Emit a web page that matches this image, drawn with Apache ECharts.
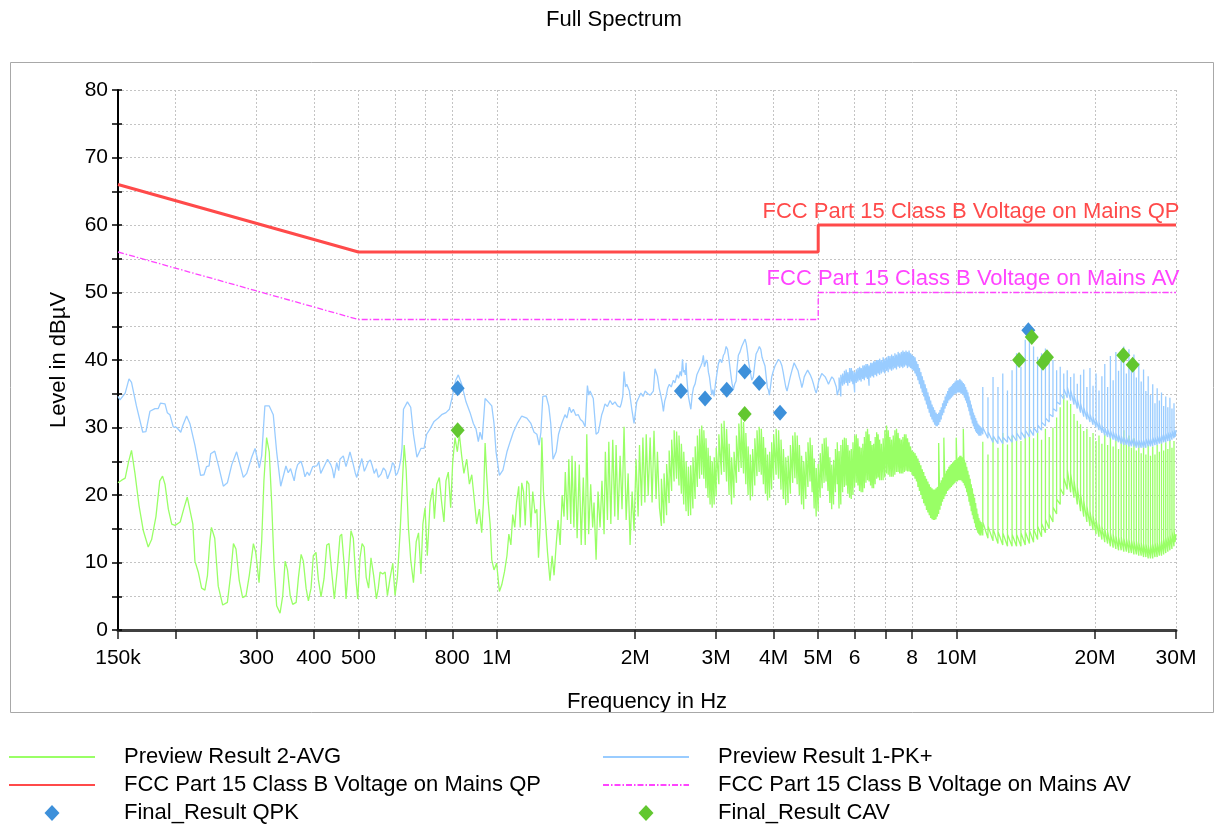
<!DOCTYPE html>
<html>
<head>
<meta charset="utf-8">
<title>Full Spectrum</title>
<script src="https://cdn.jsdelivr.net/npm/echarts@6/dist/echarts.min.js"></script>
<style>
  html, body { margin: 0; padding: 0; background: #ffffff; }
  #chart { width: 1216px; height: 826px; }
</style>
</head>
<body>
<div id="chart"></div>
<script>
// ---- Axis ticks (frequencies in MHz) ----
const tickFreqMHz  = [0.15, 0.2, 0.3, 0.4, 0.5, 0.6, 0.7, 0.8, 1, 2, 3, 4, 5, 6, 7, 8, 10, 20, 30];
const labelFreqMHz = [0.15, 0.3, 0.4, 0.5, 0.8, 1, 2, 3, 4, 5, 6, 8, 10, 20, 30];
const labelText    = ['150k', '300', '400', '500', '800', '1M', '2M', '3M', '4M', '5M', '6', '8', '10M', '20M', '30M'];

// ---- Limit lines [MHz, dBµV] ----
const qpLimit = [[0.15, 66], [0.5, 56], [5, 56], [5, 60], [30, 60]];
const avLimit = [[0.15, 56], [0.5, 46], [5, 46], [5, 50], [30, 50]];

// ---- Final measurement results [MHz, dBµV] ----
const qpkFinal = [[0.822, 35.8], [2.514, 35.4], [2.837, 34.3], [3.162, 35.6], [3.46, 38.3], [3.72, 36.6], [4.13, 32.2], [14.32, 44.4]];
const cavFinal = [[0.822, 29.6], [3.46, 32.0], [13.67, 40.0], [14.57, 43.4], [15.41, 39.6], [15.72, 40.4], [23.04, 40.7], [24.15, 39.3]];

// ---- Preview Result 1-PK+ [MHz, dBµV] ----
const pkLow = [[0.150,34.6],[0.1515,34.1],[0.1555,35.1],[0.1585,37.2],[0.1605,36.7],[0.1645,33.2],[0.1698,29.3],[0.1725,29.4],[0.1760,32.4],[0.1805,32.8],[0.1835,32.8],[0.1855,33.6],[0.1898,33.5],[0.1920,32.2],[0.1945,31.9],[0.1978,30.1],[0.2013,30.0],[0.2054,29.3],[0.2075,30.3],[0.2115,31.7],[0.2150,30.6],[0.2205,27.4],[0.2268,22.9],[0.2307,23.0],[0.2337,24.2],[0.2367,24.3],[0.2386,26.1],[0.2435,26.5],[0.2478,24.5],[0.2542,21.3],[0.2594,21.8],[0.2652,24.5],[0.2717,26.4],[0.2753,24.9],[0.2810,22.6],[0.2858,23.2],[0.2930,25.6],[0.2980,26.9],[0.3044,24.0],[0.3080,25.8],[0.3130,33.2],[0.3199,33.2],[0.3264,31.9],[0.3320,26.4],[0.3388,21.3],[0.3478,24.3],[0.3518,23.3],[0.3560,23.9],[0.3625,22.1],[0.3655,23.6],[0.3688,24.5],[0.3751,25.0],[0.3790,24.0],[0.3826,22.7],[0.3870,23.4],[0.3910,22.9],[0.3977,24.2],[0.4058,24.3],[0.4100,24.9],[0.4140,23.2],[0.4194,24.0],[0.4284,25.3],[0.4353,24.5],[0.4390,23.8],[0.4425,22.5],[0.4485,24.8],[0.4530,23.6],[0.4559,25.3],[0.4635,25.8],[0.4699,24.2],[0.4740,25.1],[0.4793,26.4],[0.4874,24.5],[0.4920,23.3],[0.4958,22.6],[0.5020,24.0],[0.5087,25.4],[0.5150,23.5],[0.5201,24.2],[0.5250,24.9],[0.5307,25.2],[0.5360,24.3],[0.5411,23.2],[0.5470,23.9],[0.5524,22.6],[0.5600,23.1],[0.5667,24.0],[0.5730,23.6],[0.5785,22.4],[0.5882,23.7],[0.5930,24.8],[0.5977,24.5],[0.6030,22.9],[0.6078,23.2],[0.6130,24.0],[0.6184,25.3],[0.6220,27.0],[0.6266,32.7],[0.6391,33.8],[0.6497,33.0],[0.6587,29.0],[0.6702,25.6],[0.6838,26.9],[0.6946,26.9],[0.7038,29.0],[0.7159,29.8],[0.7304,30.9],[0.7460,31.4],[0.7585,31.9],[0.7752,32.2],[0.7884,32.7],[0.8016,34.8],[0.8138,37.0],[0.8245,37.8],[0.8386,36.4],[0.8570,33.8],[0.8746,32.2],[0.8891,30.6],[0.9009,29.8],[0.9115,27.9],[0.9193,29.3]];
const pkMid = [[0.929,28.2],[0.943,34.3],[0.958,33.8],[0.975,33.2],[0.986,30.6],[0.996,26.4],[1.013,22.9],[1.031,23.7],[1.052,26.4],[1.069,27.9],[1.086,29.3],[1.108,30.6],[1.133,31.7],[1.162,31.4],[1.186,30.6],[1.205,29.3],[1.222,29.0],[1.236,27.4],[1.247,29.3],[1.259,34.6],[1.280,34.7],[1.297,33.2],[1.310,30.6],[1.325,25.3],[1.346,26.4],[1.362,29.0],[1.384,30.6],[1.407,31.9],[1.420,31.4],[1.438,33.0],[1.452,32.2],[1.467,32.7],[1.485,31.8],[1.504,31.9],[1.520,31.2],[1.538,30.9],[1.556,30.1],[1.574,36.2],[1.585,34.8],[1.595,35.4],[1.621,34.3],[1.644,29.0],[1.663,29.3],[1.691,31.9],[1.705,32.6],[1.719,33.5],[1.740,33.1],[1.763,34.0],[1.785,33.4],[1.807,33.8],[1.830,33.2],[1.854,33.0],[1.866,33.6],[1.879,34.6],[1.891,38.3],[1.905,36.0],[1.917,36.4],[1.942,35.4],[1.966,32.7],[1.988,30.6],[2.015,33.8],[2.035,34.4],[2.057,35.1],[2.080,34.6],[2.102,35.4],[2.130,35.0],[2.155,34.8],[2.190,35.4],[2.208,38.7],[2.235,37.6],[2.255,35.8]];
const pkRipple = [[2.273,34.8],[2.290,33.6],[2.303,32.4],[2.318,33.9],[2.334,34.6],[2.352,35.8],[2.373,36.4],[2.395,36.0],[2.421,37.0],[2.440,36.6],[2.464,37.8],[2.485,37.3],[2.505,38.3],[2.520,37.6],[2.534,40.1],[2.546,38.2],[2.559,38.5],[2.570,37.8],[2.580,39.6],[2.588,37.6],[2.596,36.4],[2.610,34.6],[2.623,33.8],[2.642,32.7],[2.660,34.8],[2.677,35.9],[2.700,36.5],[2.723,37.8],[2.750,38.0],[2.777,39.1],[2.795,39.6],[2.813,40.7],[2.828,39.0],[2.842,39.1],[2.856,40.0],[2.871,39.6],[2.885,38.2],[2.900,37.5],[2.918,36.0],[2.935,34.8],[2.950,35.6],[2.968,34.6],[2.988,36.4],[3.008,37.8],[3.032,39.4],[3.059,40.1],[3.085,39.6],[3.110,40.7],[3.130,41.0],[3.153,42.0],[3.175,41.6],[3.194,40.4],[3.210,39.2],[3.226,38.0],[3.248,36.5],[3.269,35.6],[3.290,36.4],[3.314,36.9],[3.332,39.0],[3.352,40.7],[3.380,41.2],[3.409,42.0],[3.438,41.8],[3.467,43.1],[3.488,42.4],[3.508,41.2],[3.530,39.6],[3.554,38.5],[3.585,37.0],[3.613,37.5],[3.640,39.4],[3.663,40.9],[3.695,41.4],[3.724,42.0],[3.750,41.6],[3.774,40.4],[3.800,39.8],[3.831,39.1],[3.855,37.4],[3.876,35.9],[3.895,35.6],[3.915,34.8],[3.940,36.2],[3.961,37.5],[3.995,38.4],[4.027,39.1],[4.060,39.2],[4.098,40.1],[4.135,39.8],[4.170,39.1],[4.195,38.2],[4.219,37.2],[4.250,36.0],[4.277,35.4],[4.310,36.4],[4.347,37.5],[4.390,38.6],[4.432,39.6],[4.460,39.2],[4.489,38.8],[4.520,38.4],[4.550,37.5],[4.580,36.8],[4.607,35.9],[4.635,36.6],[4.662,37.5],[4.700,38.0],[4.742,38.5],[4.775,38.4],[4.805,37.8],[4.845,37.2],[4.885,36.4],[4.920,35.6],[4.950,35.1],[4.980,35.8],[5.013,36.9],[5.050,37.4],[5.090,38.0],[5.135,37.9],[5.178,37.5],[5.220,37.0],[5.264,36.4],[5.310,37.0],[5.353,37.5],[5.400,37.2],[5.442,37.0],[5.475,36.0],[5.500,34.8]];
const pkTail = [[29.85, 28.6], [30.0, 29.6]];

// ---- Preview Result 2-AVG [MHz, dBµV] ----
const avgLow = [[0.150,21.8],[0.1528,22.2],[0.1555,22.5],[0.1580,24.8],[0.1605,26.6],[0.1633,23.2],[0.1667,18.4],[0.1703,14.7],[0.1745,12.3],[0.1775,13.4],[0.1814,16.8],[0.1849,22.1],[0.1875,22.8],[0.1898,21.6],[0.1930,17.9],[0.1963,15.7],[0.1996,15.5],[0.2048,16.0],[0.2088,18.1],[0.2122,19.7],[0.2143,19.6],[0.2182,15.7],[0.2205,10.2],[0.2242,8.6],[0.2280,6.2],[0.2318,5.9],[0.2348,8.1],[0.2375,13.1],[0.2395,15.2],[0.2435,13.6],[0.2478,6.5],[0.2534,3.7],[0.2594,4.1],[0.2638,8.3],[0.2674,12.8],[0.2708,12.0],[0.2753,7.3],[0.2800,4.8],[0.2848,5.1],[0.2895,8.1],[0.2955,12.8],[0.2990,11.5],[0.3040,7.0],[0.3080,13.1],[0.3115,22.1],[0.3157,28.5],[0.3199,26.4],[0.3238,18.9],[0.3276,9.9],[0.3320,3.6],[0.3377,2.5],[0.3423,5.1],[0.3464,10.2],[0.3505,8.9],[0.3553,5.1],[0.3598,3.8],[0.3661,4.1],[0.3703,7.8],[0.3753,11.2],[0.3795,10.2],[0.3847,6.2],[0.3892,4.3],[0.3944,6.2],[0.3989,11.0],[0.4043,11.5],[0.4091,7.5],[0.4146,4.9],[0.4209,7.6],[0.4267,12.6],[0.4316,12.8],[0.4374,8.6],[0.4432,4.6],[0.4499,9.0],[0.4559,13.9],[0.4598,14.2],[0.4659,9.4],[0.4699,4.6],[0.4763,9.9],[0.4817,14.7],[0.4874,13.6],[0.4933,7.8],[0.4983,4.6],[0.5040,10.7],[0.5093,12.8],[0.5146,12.3],[0.5199,7.8],[0.5262,6.2],[0.5325,10.7],[0.5396,8.1],[0.5471,4.6],[0.5524,6.2],[0.5573,8.6],[0.5649,8.3],[0.5716,8.6],[0.5782,5.1],[0.5862,7.8],[0.5940,9.9],[0.6006,5.1],[0.6078,7.8],[0.6163,14.7],[0.6235,22.1],[0.6288,27.4],[0.6351,23.7],[0.6423,15.2],[0.6497,10.4],[0.6587,7.0],[0.6679,13.1],[0.6756,14.4],[0.6838,8.3],[0.6905,15.7],[0.6980,18.1],[0.7059,11.0],[0.7159,18.9],[0.7256,21.0],[0.7315,16.5],[0.7402,21.6],[0.7497,22.6],[0.7585,18.9],[0.7674,16.0],[0.7752,22.1],[0.7842,23.4],[0.7937,18.1],[0.8016,24.8],[0.8111,28.5],[0.8206,26.4],[0.8290,29.0],[0.8386,25.8],[0.8480,23.2],[0.8600,25.3],[0.8716,21.6],[0.8821,23.0],[0.8920,19.7],[0.9040,15.7],[0.9162,17.9]];
const avgMid = [[0.927,14.4],[0.935,18.9],[0.943,27.7],[0.950,23.2],[0.958,18.9],[0.967,15.7],[0.975,10.4],[0.986,8.9],[0.999,9.9],[1.013,5.7],[1.025,6.7],[1.039,8.6],[1.052,11.0],[1.062,14.2],[1.073,12.6],[1.083,17.1],[1.094,15.2],[1.104,18.9],[1.116,21.3],[1.124,15.2],[1.133,21.8],[1.143,20.5],[1.153,15.5],[1.162,22.1],[1.174,21.6],[1.186,15.2],[1.197,20.5],[1.211,17.3],[1.222,17.9],[1.232,10.7],[1.242,15.2],[1.253,28.5],[1.263,20.5],[1.274,16.8],[1.289,11.5],[1.305,7.3],[1.319,11.0],[1.332,8.1],[1.346,12.6],[1.359,16.3],[1.373,12.6],[1.387,20.0],[1.400,16.8],[1.409,23.4],[1.424,16.3],[1.434,25.3],[1.448,15.7],[1.457,25.8],[1.471,15.2],[1.481,25.0],[1.495,13.6],[1.511,24.5],[1.526,12.6],[1.542,22.6],[1.557,12.6],[1.569,29.0],[1.584,14.2],[1.600,21.6],[1.616,15.2],[1.627,18.9],[1.644,10.4],[1.660,20.5],[1.677,15.2],[1.693,22.1],[1.711,14.2],[1.722,26.4],[1.740,16.3],[1.752,27.9],[1.770,15.7],[1.787,28.2],[1.805,16.8],[1.817,27.4],[1.835,16.3],[1.854,25.8],[1.872,17.9],[1.891,30.1],[1.911,16.3],[1.930,23.2],[1.949,12.6],[1.969,20.5],[1.988,14.7],[2.008,25.3],[2.029,16.8],[2.043,27.4],[2.064,18.4],[2.078,28.5],[2.099,18.9],[2.113,29.0],[2.134,19.9],[2.155,28.5],[2.176,18.9],[2.197,29.5],[2.220,19.4],[2.235,26.4],[2.258,18.1]];
const avgTail = [[29.85, 13.0], [30.0, 14.2]];

// ---- Dense ripple band 2.3–5.5 MHz (AVG): low / high of the trace at each frequency ----
const rippleFreqMHz = [2.28,2.31,2.34,2.37,2.40,2.43,2.46,2.49,2.52,2.55,2.58,2.61,2.64,2.67,2.70,2.73,2.76,2.79,2.82,2.85,2.88,2.91,2.94,2.97,3.00,3.04,3.08,3.12,3.16,3.20,3.24,3.28,3.32,3.36,3.40,3.44,3.48,3.52,3.56,3.60,3.64,3.68,3.72,3.76,3.80,3.84,3.88,3.92,3.96,4.00,4.05,4.10,4.15,4.20,4.25,4.30,4.35,4.40,4.45,4.50,4.55,4.60,4.65,4.70,4.75,4.80,4.85,4.90,4.95,5.00,5.05,5.10,5.15,5.20,5.25,5.30,5.35,5.40,5.45,5.50];
const avgRippleHi = [22.4,23.2,24.6,26.6,28.2,29.6,29.4,28.8,27.6,26.4,25.0,24.2,24.4,25.6,27.2,28.8,29.8,30.3,29.6,28.4,27.0,25.8,25.0,25.6,27.0,29.0,30.6,31.0,29.8,27.6,25.6,26.4,28.8,30.6,31.4,30.8,29.2,27.2,26.0,26.8,28.4,29.6,30.1,29.8,28.6,27.0,26.0,26.4,27.8,29.0,29.8,29.6,28.2,26.8,25.6,25.8,27.4,28.8,29.3,28.8,27.4,25.8,25.0,26.4,27.8,28.5,27.4,25.4,24.0,24.6,26.2,27.6,28.4,28.5,27.2,25.6,24.5,25.2,26.8,27.8];
const avgRippleLo = [15.4,15.8,17.0,18.8,20.6,22.0,22.4,21.4,20.2,18.6,17.6,16.9,17.0,18.0,19.4,21.2,22.4,23.0,22.4,21.0,19.6,18.6,18.1,18.6,19.8,21.6,23.0,23.4,22.0,20.0,18.6,19.6,21.8,23.4,24.0,23.2,21.6,20.0,19.2,19.8,21.4,22.8,23.4,23.0,21.6,20.2,19.2,19.6,20.8,22.2,23.0,22.4,20.8,19.4,18.5,18.8,20.2,21.8,22.5,21.6,20.0,18.6,17.9,19.4,21.2,22.0,20.4,18.0,16.8,17.6,19.6,21.0,21.8,22.0,20.6,18.8,17.9,18.6,20.4,21.6];

// ---- Dense band 5.5–11.3 MHz (AVG and PK+): low / high at each frequency ----
const bandFreqMHz = [5.55,5.60,5.65,5.70,5.75,5.80,5.85,5.90,5.95,6.00,6.05,6.10,6.15,6.20,6.25,6.30,6.35,6.40,6.45,6.50,6.55,6.60,6.65,6.70,6.75,6.80,6.86,6.92,6.98,7.04,7.10,7.16,7.22,7.28,7.34,7.40,7.46,7.52,7.58,7.64,7.70,7.76,7.82,7.88,7.94,8.00,8.06,8.12,8.18,8.24,8.30,8.36,8.42,8.48,8.54,8.60,8.66,8.72,8.78,8.84,8.90,8.96,9.02,9.08,9.14,9.20,9.26,9.32,9.38,9.44,9.50,9.56,9.62,9.68,9.74,9.80,9.86,9.92,9.98,10.04,10.10,10.16,10.22,10.28,10.34,10.40,10.46,10.52,10.58,10.64,10.70,10.76,10.82,10.88,10.94,11.00,11.06,11.12,11.18,11.24,11.30];
const avgBandHi = [26.5,27.4,28.2,28.5,28.4,27.4,26.6,26.8,27.8,28.8,29.0,28.4,27.2,27.0,27.6,28.6,29.4,29.8,29.0,28.0,27.4,27.6,28.6,29.3,29.0,28.2,27.6,28.4,29.6,30.3,29.6,28.6,28.2,28.8,29.6,29.8,29.2,28.4,28.2,28.6,29.0,29.0,28.4,27.8,27.2,26.6,26.4,26.2,25.8,25.4,24.8,24.4,23.8,23.4,22.8,22.4,22.0,21.6,21.2,21.0,20.8,20.8,21.0,21.2,27.7,21.8,22.2,22.6,28.5,23.2,23.6,23.8,24.2,24.4,24.6,24.8,25.0,25.2,28.5,25.4,25.6,25.8,25.8,25.6,29.8,25.2,24.8,24.2,23.6,23.0,22.4,21.6,21.0,20.2,19.6,18.8,18.0,17.2,16.6,16.2,16.0];
const avgBandLo = [18.0,18.6,20.4,21.2,21.4,20.2,19.6,19.4,20.0,21.2,21.8,21.4,20.6,20.4,20.4,21.0,21.8,22.2,22.0,21.4,21.0,21.0,21.6,22.4,22.6,22.2,22.2,22.2,22.6,23.2,23.0,22.7,22.7,22.7,23.0,23.4,23.4,23.2,23.2,23.2,23.4,23.6,23.5,23.5,23.4,23.0,22.8,22.4,22.0,21.2,20.6,20.0,19.4,18.8,18.4,17.8,17.4,17.0,16.6,16.4,16.3,16.3,16.4,16.8,17.2,17.8,18.4,19.0,19.4,19.8,20.2,20.6,20.8,21.0,21.2,21.4,21.6,21.8,22.0,22.0,22.2,22.2,22.2,22.0,21.8,21.4,21.0,20.4,19.8,19.0,18.4,17.6,17.0,16.4,15.8,15.2,14.8,14.4,14.2,14.0,14.0];
const pkBandHi = [37.4,37.8,38.0,38.4,38.6,38.2,38.8,38.8,38.4,38.2,38.6,38.8,39.0,38.8,39.2,39.2,39.4,39.4,39.2,39.6,39.6,39.8,39.8,40.0,40.0,40.2,40.0,40.4,40.2,40.4,40.6,40.6,40.8,40.6,41.0,40.8,41.2,41.0,41.2,41.4,41.2,41.4,41.2,41.4,41.0,40.8,40.6,40.4,39.8,39.4,38.8,38.2,37.6,37.0,36.4,35.8,35.2,34.6,34.0,33.4,33.0,32.6,32.2,32.0,32.2,32.6,33.0,33.6,34.0,34.6,35.0,35.4,35.8,36.0,36.2,36.4,36.6,36.8,37.0,37.0,37.0,37.2,37.0,36.8,36.6,36.4,36.0,35.6,35.2,34.6,34.0,33.4,32.8,32.2,31.8,31.4,31.0,30.6,30.4,30.2,30.0];
const pkBandLo = [35.8,34.6,36.2,36.4,36.6,36.2,36.6,36.8,36.4,35.2,36.6,36.8,37.0,36.8,37.2,37.0,37.4,37.2,36.2,37.4,37.6,37.4,37.8,37.6,38.0,37.8,38.0,38.2,38.0,38.4,38.2,38.6,38.4,38.6,38.8,38.6,39.0,38.8,39.0,38.8,39.0,39.2,38.8,39.0,38.8,38.6,38.4,38.0,37.6,37.0,36.4,35.8,35.2,34.6,34.0,33.4,32.8,32.2,31.6,31.2,30.8,30.4,30.2,30.2,30.4,30.8,31.2,31.8,32.2,32.8,33.2,33.6,34.0,34.2,34.4,34.6,34.8,35.0,35.0,35.2,35.2,35.2,35.0,35.0,34.8,34.4,34.0,33.6,33.0,32.4,31.8,31.2,30.6,30.2,29.8,29.4,29.2,29.0,28.8,28.8,28.8];

// ---- Harmonic comb above 11 MHz: floor low, peak, floor high per harmonic ----
const combFreqMHz = [11.4,11.7,12.0,12.3,12.6,12.9,13.2,13.5,13.8,14.1,14.4,14.7,15.0,15.3,15.6,15.9,16.2,16.5,16.8,17.1,17.4,17.7,18.0,18.3,18.6,18.9,19.2,19.5,19.8,20.1,20.4,20.7,21.0,21.3,21.6,21.9,22.2,22.5,22.8,23.1,23.4,23.7,24.0,24.3,24.6,24.9,25.2,25.5,25.8,26.1,26.4,26.7,27.0,27.3,27.6,27.9,28.2,28.5,28.8,29.1,29.4,29.7];
const pkCombLo   = [29.0,28.4,27.8,27.6,27.6,27.8,27.8,28.0,28.2,28.4,28.6,28.8,29.2,29.6,30.2,30.8,31.6,32.4,33.4,34.2,34.4,34.0,33.4,32.8,32.2,31.6,31.2,30.8,30.4,30.0,29.6,29.2,28.8,28.6,28.4,28.2,28.0,27.8,27.6,27.4,27.4,27.2,27.2,27.2,27.0,27.0,27.0,27.0,27.0,27.2,27.2,27.2,27.4,27.4,27.6,27.6,27.8,27.8,28.0,28.0,28.2,28.4];
const pkCombPeak = [36.0,34.5,37.5,36.0,38.0,35.5,38.5,41.0,39.0,43.0,44.4,42.0,40.5,41.0,41.7,39.5,40.0,38.5,39.0,38.0,38.5,37.5,38.0,36.5,37.8,38.6,36.0,38.8,36.2,38.0,35.5,37.6,39.4,36.0,40.6,37.0,41.2,38.4,40.2,42.0,38.0,41.6,39.0,40.8,37.4,39.6,36.8,38.6,35.4,37.6,34.8,36.4,33.6,35.8,34.0,35.2,33.2,34.6,33.0,34.4,32.8,33.6];
const pkCombHi   = [30.0,29.4,28.8,28.8,28.6,28.8,29.0,29.2,29.4,29.6,29.8,30.0,30.4,30.8,31.4,32.0,32.8,33.8,35.0,35.8,36.0,35.6,34.8,34.2,33.6,33.0,32.4,32.0,31.6,31.2,30.8,30.4,30.0,29.8,29.6,29.4,29.2,29.0,28.8,28.6,28.6,28.4,28.4,28.4,28.2,28.2,28.2,28.2,28.4,28.4,28.4,28.6,28.6,28.8,28.8,29.0,29.0,29.2,29.4,29.4,29.6,29.8];
const avgCombLo   = [14.0,13.6,13.2,12.8,12.6,12.4,12.4,12.4,12.4,12.6,12.8,13.0,13.4,13.8,14.4,15.0,16.0,17.2,18.6,20.0,20.8,20.4,19.6,18.6,17.6,16.8,16.0,15.4,14.8,14.2,13.8,13.4,13.0,12.8,12.4,12.2,12.0,11.8,11.8,11.6,11.6,11.4,11.4,11.2,11.2,11.0,11.0,10.8,10.8,10.6,10.6,10.6,10.8,10.8,11.0,11.0,11.2,11.4,11.6,11.8,12.0,12.4];
const avgCombPeak = [27.9,26.0,28.5,27.0,29.2,27.5,28.8,29.6,28.0,29.0,30.0,28.4,29.5,28.2,29.8,28.6,30.0,31.5,33.0,34.8,34.0,33.5,32.0,31.0,30.5,29.5,29.8,28.6,29.2,28.0,28.8,27.6,29.0,27.4,28.6,27.2,28.4,26.8,28.2,29.6,27.6,28.8,27.0,28.4,26.6,27.8,26.2,27.6,26.0,27.4,25.8,27.2,26.0,27.4,26.4,28.0,26.6,27.8,26.8,28.2,27.0,28.0];
const avgCombHi   = [16.0,15.4,15.0,14.6,14.4,14.2,14.2,14.2,14.4,14.6,14.8,15.0,15.4,15.8,16.4,17.2,18.2,19.4,21.0,22.6,23.8,23.2,22.2,21.2,20.2,19.2,18.4,17.6,17.0,16.4,15.8,15.4,15.0,14.6,14.4,14.2,14.0,13.8,13.8,13.6,13.6,13.4,13.4,13.2,13.2,13.0,13.0,12.8,12.8,12.6,12.8,12.8,13.0,13.0,13.2,13.4,13.6,13.8,14.0,14.2,14.6,15.0];

// ---- Helpers ----
const FONT = "'Liberation Sans', Arial, Helvetica, sans-serif";
const toLog = f => Math.log10(f * 1e6);              // MHz -> log10(Hz) on the x axis
const xy = pts => pts.map(p => [toLog(p[0]), p[1]]);
// vertical stroke per frequency: low then high
function envelope(freqs, lo, hi) {
  const out = [];
  freqs.forEach((f, i) => { out.push([f, lo[i]], [f, hi[i]]); });
  return out;
}
// harmonic line per frequency: floor, peak, floor
function comb(freqs, lo, peak, hi) {
  const out = [];
  freqs.forEach((f, i) => { out.push([f, lo[i]], [f, peak[i]], [f, hi[i]]); });
  return out;
}

const avgTrace = xy([].concat(
  avgLow, avgMid,
  envelope(rippleFreqMHz, avgRippleLo, avgRippleHi),
  envelope(bandFreqMHz, avgBandLo, avgBandHi),
  comb(combFreqMHz, avgCombLo, avgCombPeak, avgCombHi),
  avgTail));
const pkTrace = xy([].concat(
  pkLow, pkMid, pkRipple,
  envelope(bandFreqMHz, pkBandLo, pkBandHi),
  comb(combFreqMHz, pkCombLo, pkCombPeak, pkCombHi),
  pkTail));

const tickLogs = tickFreqMHz.map(toLog);
const labelLogs = labelFreqMHz.map(toLog);

const NAME_AVG = 'Preview Result 2-AVG';
const NAME_PK  = 'Preview Result 1-PK+';
const NAME_QP  = 'FCC Part 15 Class B Voltage on Mains QP';
const NAME_AV  = 'FCC Part 15 Class B Voltage on Mains AV';
const NAME_QPK = 'Final_Result QPK';
const NAME_CAV = 'Final_Result CAV';

const qpData = xy(qpLimit);
const avData = xy(avLimit);

function limitLabel(text, color, endPoint) {
  return {
    symbol: 'circle', symbolSize: 1, silent: true,
    itemStyle: { color: 'rgba(0,0,0,0)' },
    label: {
      show: true, formatter: text, position: [4, -2],
      align: 'right', verticalAlign: 'bottom',
      color: color, fontSize: 22, fontFamily: FONT
    },
    data: [{ coord: endPoint }]
  };
}

// legend: line entries without the marker dot, marker entries as a diamond centred in the icon box
const DIAMOND_ICON = 'path://M0 0M86 16M43 0L50.5 8L43 16L35.5 8Z';
const lineEntry = name => ({ name: name, itemStyle: { opacity: 0 } });
const markEntry = name => ({ name: name, icon: DIAMOND_ICON, itemStyle: { opacity: 1 } });

const legendCommon = {
  orient: 'vertical', top: 746, height: 80, padding: 0,
  itemWidth: 86, itemHeight: 16, itemGap: 6,
  selectedMode: false,
  textStyle: { fontSize: 22, fontFamily: FONT, color: '#000', lineHeight: 22, padding: [0, 0, 0, 24] }
};

const chart = echarts.init(document.getElementById('chart'), null, { renderer: 'canvas' });
chart.setOption({
  animation: false,
  backgroundColor: '#ffffff',
  title: {
    text: 'Full Spectrum', left: 541, top: 4,
    textStyle: { fontSize: 22, fontWeight: 'normal', fontFamily: FONT, color: '#000' }
  },
  legend: [
    Object.assign({ left: 8, data: [lineEntry(NAME_AVG), lineEntry(NAME_QP), markEntry(NAME_QPK)] }, legendCommon),
    Object.assign({ left: 602, data: [lineEntry(NAME_PK), lineEntry(NAME_AV), markEntry(NAME_CAV)] }, legendCommon)
  ],
  grid: { left: 118, right: 40, top: 90, bottom: 196, containLabel: false },
  xAxis: {
    type: 'value', min: tickLogs[0], max: tickLogs[tickLogs.length - 1],
    name: 'Frequency in Hz', nameLocation: 'middle', nameGap: 61,
    nameTextStyle: { fontSize: 22, fontFamily: FONT, color: '#000' },
    axisLine: { show: true, onZero: false, lineStyle: { color: '#404040', width: 3 } },
    axisTick: { show: true, length: 9, customValues: tickLogs, lineStyle: { color: '#202020', width: 1.5 } },
    axisLabel: {
      customValues: labelLogs, margin: 18, fontSize: 21, fontFamily: FONT, color: '#000',
      formatter: v => {
        const i = labelLogs.findIndex(t => Math.abs(t - v) < 1e-6);
        return i >= 0 ? labelText[i] : '';
      }
    },
    splitLine: { show: true, lineStyle: { color: '#c4c4c4', width: 1, type: [2, 2] } }
  },
  yAxis: [
    {
      type: 'value', min: 0, max: 80, interval: 5,
      name: 'Level in dBµV', nameLocation: 'middle', nameGap: 48, nameRotate: 90,
      nameTextStyle: { fontSize: 22, fontFamily: FONT, color: '#000' },
      axisLine: { show: true, lineStyle: { color: '#000', width: 2 } },
      axisTick: { show: true, length: 6, lineStyle: { color: '#000', width: 1.5 } },
      axisLabel: {
        margin: 10, fontSize: 21, fontFamily: FONT, color: '#000',
        formatter: v => (v % 10 === 0 ? String(v) : '')
      },
      splitLine: { show: true, lineStyle: { color: '#c4c4c4', width: 1, type: [2, 2] } }
    },
    {
      type: 'value', min: 0, max: 80, interval: 5, position: 'left',
      axisLine: { show: false },
      axisTick: { show: true, inside: true, length: 4, lineStyle: { color: '#000', width: 1.5 } },
      axisLabel: { show: false },
      splitLine: { show: false }
    }
  ],
  series: [
    {
      name: NAME_AVG, type: 'line', data: avgTrace, symbol: 'none', z: 2,
      lineStyle: { color: '#99FF66', width: 1.3 }, itemStyle: { color: '#99FF66' }
    },
    {
      name: NAME_PK, type: 'line', data: pkTrace, symbol: 'none', z: 3,
      lineStyle: { color: '#99CCFF', width: 1.3 }, itemStyle: { color: '#99CCFF' }
    },
    {
      name: NAME_QP, type: 'line', data: qpData, symbol: 'none', z: 4,
      lineStyle: { color: '#FF4A4A', width: 3 }, itemStyle: { color: '#FF4A4A' },
      markPoint: limitLabel(NAME_QP, '#FF4A4A', qpData[qpData.length - 1])
    },
    {
      name: NAME_AV, type: 'line', data: avData, symbol: 'none', z: 4,
      lineStyle: { color: '#FF44FF', width: 1.3, type: [6, 2, 1.5, 2] }, itemStyle: { color: '#FF44FF' },
      markPoint: limitLabel(NAME_AV, '#FF44FF', avData[avData.length - 1])
    },
    {
      name: NAME_QPK, type: 'scatter', data: xy(qpkFinal), symbol: 'diamond', symbolSize: [14, 16], z: 5,
      itemStyle: { color: '#3D90DA', opacity: 1 }
    },
    {
      name: NAME_CAV, type: 'scatter', data: xy(cavFinal), symbol: 'diamond', symbolSize: [14, 16], z: 6,
      itemStyle: { color: '#62C730', opacity: 1 }
    }
  ],
  graphic: [
    { type: 'rect', z: 100, shape: { x: 10, y: 712, width: 1204, height: 9 }, style: { fill: '#ffffff' } },
    { type: 'rect', z: 101, shape: { x: 10.5, y: 62.5, width: 1203, height: 650 },
      style: { fill: 'none', stroke: '#a8a8a8', lineWidth: 1 } }
  ]
});
</script>
</body>
</html>
